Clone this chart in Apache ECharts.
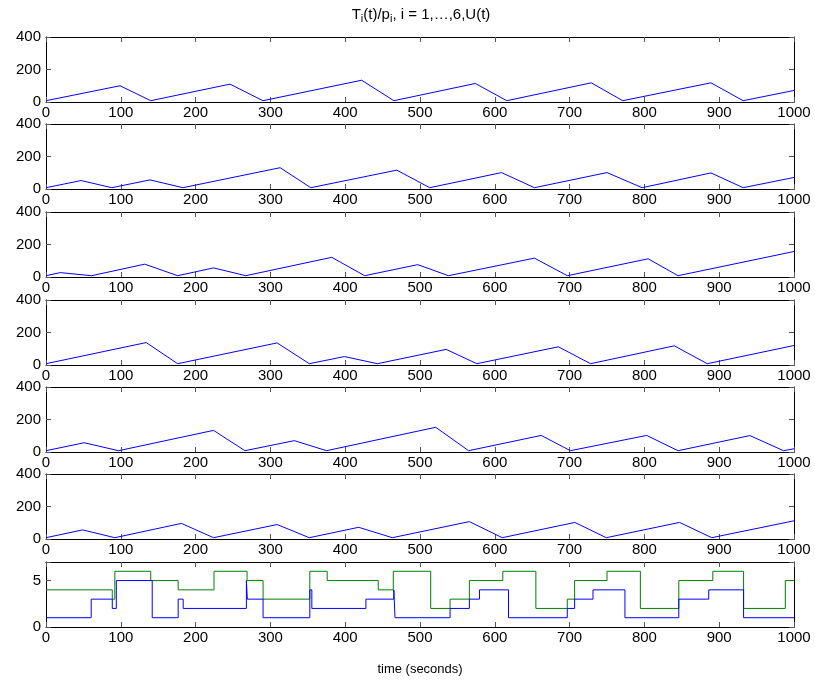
<!DOCTYPE html>
<html>
<head>
<meta charset="utf-8">
<script src="https://cdn.jsdelivr.net/npm/echarts@6/dist/echarts.min.js"></script>
<style>
  html, body { margin: 0; padding: 0; background: #fff; }
  #chart { width: 815px; height: 684px; }
</style>
</head>
<body>
<div id="chart"></div>
<script>
// T_i(t)/p_i for tasks 1..6, vertices [time, value]
const task1 = [[0, 8], [99, 100], [140, 8], [246, 110], [290, 8], [422, 134], [465, 8], [574, 114], [616, 8], [729, 118], [771, 8], [889, 118], [932, 8], [1000, 71]]
const task2 = [[0, 8], [47, 52], [88, 8], [139, 56], [183, 8], [313, 131], [354, 8], [469, 116], [513, 8], [609, 101], [653, 8], [750, 101], [797, 8], [889, 99], [932, 8], [1000, 71]]
const task3 = [[0, 8], [19, 27], [61, 8], [132, 79], [176, 8], [224, 56], [267, 8], [382, 121], [426, 8], [497, 76], [538, 8], [653, 116], [697, 8], [805, 112], [845, 8], [1000, 157]]
const task4 = [[0, 8], [134, 138], [176, 8], [309, 136], [352, 8], [399, 52], [443, 8], [535, 96], [576, 8], [685, 112], [728, 8], [840, 118], [884, 8], [1000, 120]]
const task5 = [[0, 8], [51, 57], [97, 8], [224, 133], [266, 8], [332, 70], [375, 8], [521, 152], [565, 8], [662, 102], [701, 8], [803, 102], [845, 8], [941, 101], [986, 8], [1000, 20]]
const task6 = [[0, 8], [49, 56], [92, 8], [181, 96], [224, 8], [309, 89], [352, 8], [418, 72], [463, 8], [566, 107], [610, 8], [707, 102], [749, 8], [847, 102], [890, 8], [1000, 112]]

// U(t): step levels, each held from its time until the next one
const upperTimes = [0, 88.6, 92, 140, 176.7, 224.6, 268.8, 290.2, 352.7, 375.9, 444.2, 464.3, 514.3, 540.2, 566, 610.7, 654.9, 696.9, 706.7, 750, 794.6, 846, 891.5, 932.6, 988.4, 1000]
const upperLevels = [4, 3, 6, 5, 4, 6, 5, 3, 6, 5, 4, 6, 2, 3, 5, 6, 2, 3, 5, 6, 2, 5, 6, 2, 5, 5]
const lowerTimes = [0, 60.4, 88.6, 94, 142, 176.7, 183.4, 267.9, 269.2, 290.2, 352.7, 355.4, 427.7, 465, 466.6, 540.2, 566, 579.5, 618.3, 696.9, 706.7, 731.3, 774, 846, 886, 932.6, 1000]
const lowerLevels = [1, 3, 2, 5, 1, 3, 2, 5, 3, 1, 4, 2, 3, 4, 1, 2, 3, 4, 1, 2, 3, 4, 1, 3, 4, 1, 1]

const xTicks = [0, 100, 200, 300, 400, 500, 600, 700, 800, 900, 1000]
const taskTicks = [0, 200, 400]
const uTicks = [0, 5]

const tasks = [task1, task2, task3, task4, task5, task6]
const panelTops = [37, 124, 212, 300, 387, 474, 562]
const panelHeight = 65
const font = 'Liberation Sans, Helvetica, Arial, sans-serif'

const toSteps = (times, levels) => times.map((t, i) => [t, levels[i]])

const grid = []
const xAxis = []
const yAxis = []
const series = []

panelTops.forEach((top, i) => {
  grid.push({ left: 46, right: 21, top: top, height: panelHeight })
  const tickLine = { show: true, inside: true, length: 5, lineStyle: { color: '#555', width: 1 } }
  const axisLine = { show: true, onZero: false, lineStyle: { color: '#000', width: 1 } }
  // bottom + top x axes make the box
  xAxis.push({
    type: 'value', gridIndex: i, min: 0, max: 1000, interval: xTicks[1] - xTicks[0], position: 'bottom',
    axisLine, axisTick: tickLine, splitLine: { show: false },
    axisLabel: {
      color: '#000', fontFamily: font, fontSize: 15, margin: 3,
      formatter: v => (xTicks.includes(v) ? String(v) : '')
    }
  })
  xAxis.push({
    type: 'value', gridIndex: i, min: 0, max: 1000, interval: xTicks[1] - xTicks[0], position: 'top',
    axisLine, axisTick: tickLine, splitLine: { show: false }, axisLabel: { show: false }
  })
  const isU = i === 6
  const yMax = isU ? 7 : 400
  const yInt = isU ? uTicks[1] - uTicks[0] : taskTicks[1] - taskTicks[0]
  yAxis.push({
    type: 'value', gridIndex: i, min: 0, max: yMax, interval: yInt, position: 'left',
    axisLine, axisTick: tickLine, splitLine: { show: false },
    axisLabel: {
      color: '#000', fontFamily: font, fontSize: 15, margin: 5,
      formatter: v => ((isU ? uTicks : taskTicks).includes(v) ? String(v) : '')
    }
  })
  yAxis.push({
    type: 'value', gridIndex: i, min: 0, max: yMax, interval: yInt, position: 'right',
    axisLine, axisTick: tickLine, splitLine: { show: false }, axisLabel: { show: false }
  })
})

tasks.forEach((data, i) => {
  series.push({
    type: 'line', xAxisIndex: i * 2, yAxisIndex: i * 2, data,
    symbol: 'none', lineStyle: { color: '#0000ff', width: 1 }, silent: true
  })
})

series.push({
  type: 'line', xAxisIndex: 12, yAxisIndex: 12, data: toSteps(upperTimes, upperLevels), step: 'end',
  symbol: 'none', lineStyle: { color: '#008000', width: 1 }, silent: true
})
series.push({
  type: 'line', xAxisIndex: 12, yAxisIndex: 12, data: toSteps(lowerTimes, lowerLevels), step: 'end',
  symbol: 'none', lineStyle: { color: '#0000ff', width: 1 }, silent: true
})

const chart = echarts.init(document.getElementById('chart'), null, { renderer: 'canvas' })
chart.setOption({
  animation: false,
  backgroundColor: '#fff',
  title: [
    {
      text: 'T{sub|i}(t)/p{sub|i}, i = 1,…,6,U(t)',
      left: 416, top: 1, textAlign: 'center',
      textStyle: {
        color: '#000', fontFamily: font, fontSize: 15, fontWeight: 'normal',
        rich: { sub: { fontFamily: font, fontSize: 11, color: '#000', verticalAlign: 'bottom', padding: [7, 0, 0, 0] } }
      }
    },
    {
      text: 'time (seconds)',
      left: 415, top: 658, textAlign: 'center',
      textStyle: { color: '#000', fontFamily: font, fontSize: 13, fontWeight: 'normal' }
    }
  ],
  grid,
  xAxis,
  yAxis,
  series
})
</script>
</body>
</html>
